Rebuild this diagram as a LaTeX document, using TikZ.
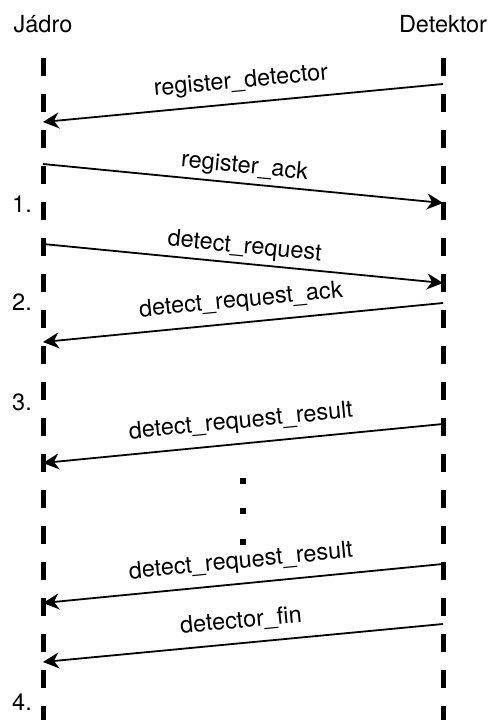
\documentclass[tikz,border=0pt]{standalone}
\usepackage{fontspec}
\setmainfont{TeX Gyre Heros}
\usetikzlibrary{arrows.meta}
\begin{document}
\begin{tikzpicture}[x=1pt,y=-1pt,
  every node/.style={font=\fontsize{23.5}{28}\selectfont, inner sep=0pt, text depth=0pt},
  lifeline/.style={line width=5pt, dash pattern=on 18pt off 18pt},
  msg/.style={line width=1.8pt, -{Stealth[length=16pt,width=16pt,inset=5pt]}},
  lblR/.style={midway, sloped, above=14.5pt},
  lblL/.style={midway, sloped, above=9.5pt},
  stepnum/.style={anchor=base west},
  actor/.style={anchor=base},
  dotsq/.style={fill=black}]
\useasboundingbox (0,0) rectangle (488,720);
% actors
\node[actor] (jadro) at (43,32) {Jádro};
\node[actor] (detektor) at (443,32) {Detektor};
% lifelines
\coordinate (jtop) at (43,58);
\coordinate (jbot) at (43,724);
\coordinate (dtop) at (443,58);
\coordinate (dbot) at (443,724);
\draw[lifeline] (jtop) -- (jbot);
\draw[lifeline] (dtop) -- (dbot);
% message end points
\coordinate (R1) at (443,84);  \coordinate (L1) at (43,122);
\coordinate (L2) at (43,164);  \coordinate (R2) at (443,203);
\coordinate (L3) at (43,244);  \coordinate (R3) at (443,283);
\coordinate (R4) at (443,303); \coordinate (L4) at (43,342);
\coordinate (R5) at (443,424); \coordinate (L5) at (43,463);
\coordinate (R6) at (443,564); \coordinate (L6) at (43,603);
\coordinate (R7) at (443,624); \coordinate (L7) at (43,662);
% messages
\draw[msg] (R1) -- node[lblR] (m1) {register\_detector} (L1);
\draw[msg] (L2) -- node[lblL] (m2) {register\_ack} (R2);
\draw[msg] (L3) -- node[lblL] (m3) {detect\_request} (R3);
\draw[msg] (R4) -- node[lblR] (m4) {detect\_request\_ack} (L4);
\draw[msg] (R5) -- node[lblR] (m5) {detect\_request\_result} (L5);
\draw[msg] (R6) -- node[lblR] (m6) {detect\_request\_result} (L6);
\draw[msg] (R7) -- node[lblR] (m7) {detector\_fin} (L7);
% ellipsis dots
\fill[dotsq] (240,477.5) rectangle (246,483.5);
\fill[dotsq] (240,508) rectangle (246,514);
\fill[dotsq] (240,538.5) rectangle (246,544.5);
% step numbers
\node[stepnum] (s1) at (12,212) {1.};
\node[stepnum] (s2) at (12,310) {2.};
\node[stepnum] (s3) at (12,410) {3.};
\node[stepnum] (s4) at (12,710) {4.};
\end{tikzpicture}
\end{document}
